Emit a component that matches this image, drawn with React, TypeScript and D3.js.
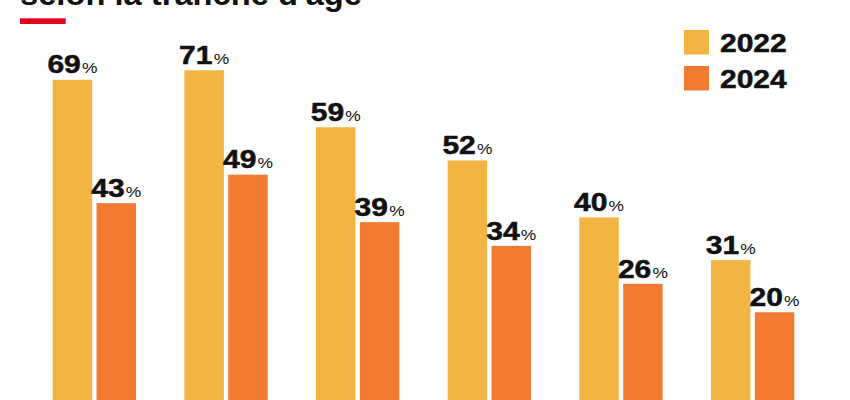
import React, { useEffect } from "react";
import * as d3 from "d3";

const categories = ["18-24 ans", "25-34 ans", "35-49 ans", "50-64 ans", "65-74 ans", "75 ans et +"];
const seriesNames = ["2022", "2024"];
const values2022 = [69, 71, 59, 52, 40, 31];
const values2024 = [43, 49, 39, 34, 26, 20];
const titleText = "selon la tranche d'âge";

const colors: Record<string, string> = { "2022": "#F2B443", "2024": "#F27A31" };
const FONT = "'Liberation Sans', Arial, Helvetica, sans-serif";

export default function App() {
  useEffect(() => {
    document.body.style.margin = "0";
  }, []);

  const W = 850;
  const H = 400;
  const x0 = d3.scaleBand<string>().domain(categories).range([52.7, 794.3]).paddingInner(0.367).paddingOuter(0);
  const x1 = d3.scaleBand<string>().domain(seriesNames).range([0, x0.bandwidth()]).paddingInner(0.1).paddingOuter(0);
  const y = d3.scaleLinear().domain([0, 71]).range([407.2, 70.3]);

  const data = categories.map((c, i) => ({ cat: c, vals: [values2022[i], values2024[i]] }));

  return (
    <svg width={W} height={H} style={{ position: "absolute", left: 0, top: 0, display: "block", background: "#fff" }}>
      <text x={20} y={4.5} fontFamily={FONT} fontWeight="bold" fontSize={32} textLength={342} lengthAdjust="spacingAndGlyphs" fill="#111">
        {titleText}
      </text>
      <rect x={20} y={18.3} width={45.7} height={5.7} fill="#E2001A" />
      {data.map((d) => (
        <g key={d.cat} transform={`translate(${x0(d.cat)},0)`}>
          {seriesNames.map((s, j) => {
            const bx = x1(s)!;
            const top = y(d.vals[j]);
            const cx = bx + x1.bandwidth() / 2;
            return (
              <g key={s}>
                <rect x={bx} y={top} width={x1.bandwidth()} height={y(0) - top} fill={colors[s]} />
                <g transform={`translate(${cx},${top - 6.3}) scale(1.2,1)`}>
                  <text x={0} y={0} textAnchor="middle" fontFamily={FONT} fill="#111">
                    <tspan fontWeight="bold" fontSize={25} stroke="#111" strokeWidth={0.5}>{d.vals[j]}</tspan>
                    <tspan fontSize={14.5} dx={1}>%</tspan>
                  </text>
                </g>
              </g>
            );
          })}
        </g>
      ))}
      {seriesNames.map((s, i) => (
        <g key={s} transform={`translate(684,${30 + i * 36})`}>
          <rect x={0} y={0} width={25} height={24.5} fill={colors[s]} />
          <g transform={`translate(36,22) scale(1.2,1)`}>
            <text x={0} y={0} fontFamily={FONT} fontWeight="bold" fontSize={25} fill="#111" stroke="#111" strokeWidth={0.5}>{s}</text>
          </g>
        </g>
      ))}
    </svg>
  );
}
